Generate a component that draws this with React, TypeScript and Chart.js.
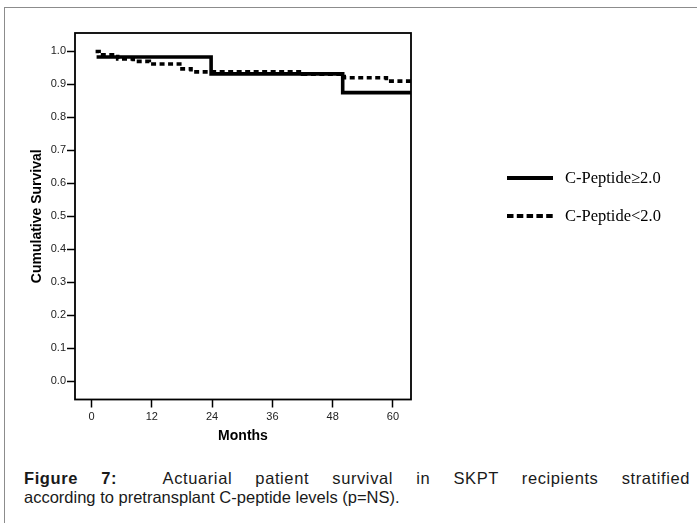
import React, { useEffect, useRef } from "react";
import { Chart, registerables } from "chart.js";

Chart.register(...registerables);

// Series: C-Peptide >= 2.0 (solid)
const highMonths = [1, 23.8, 50, 63.6];
const highSurvival = [0.983, 0.932, 0.875, 0.875];

// Series: C-Peptide < 2.0 (dashed)
const lowMonths = [0.8, 1.5, 5.2, 8.3, 11.5, 18, 19.8, 42, 50.3, 58.7, 63.6];
const lowSurvival = [1.0, 0.99, 0.977, 0.97, 0.962, 0.947, 0.938, 0.931, 0.92, 0.91, 0.91];

const seriesLabels = ["C-Peptide\u22652.0", "C-Peptide<2.0"];
const xTicks = [0, 12, 24, 36, 48, 60];
const yTicks = [0, 0.1, 0.2, 0.3, 0.4, 0.5, 0.6, 0.7, 0.8, 0.9, 1.0];
const xTitle = "Months";
const yTitle = "Cumulative Survival";
const captionBold = "Figure 7:";
const captionLine1 = "Actuarial patient survival in SKPT recipients stratified";
const captionLine2 = "according to pretransplant C-peptide levels (p=NS).";

const SANS = 'Arial, "Liberation Sans", Helvetica, sans-serif';
const SERIF = '"Times New Roman", "Liberation Serif", serif';

const boxPlugin = {
  id: "plotBox",
  afterDatasetsDraw(chart: any) {
    const { ctx, chartArea: a } = chart;
    ctx.save();
    ctx.strokeStyle = "#000";
    ctx.lineWidth = 1.8;
    ctx.strokeRect(a.left, a.top, a.right - a.left, a.bottom - a.top);
    ctx.restore();
  },
};

function toPoints(xs: number[], ys: number[]) {
  return xs.map((x, i) => ({ x, y: ys[i] }));
}

export default function App() {
  const ref = useRef<HTMLCanvasElement | null>(null);

  useEffect(() => {
    if (!ref.current) return;
    const chart = new Chart(ref.current, {
      type: "line",
      data: {
        datasets: [
          {
            label: seriesLabels[1],
            data: toPoints(lowMonths, lowSurvival),
            borderColor: "#000",
            borderWidth: 3.6,
            borderDash: [5, 3.5],
            borderCapStyle: "butt",
            stepped: "before",
            pointRadius: 0,
            fill: false,
          },
          {
            label: seriesLabels[0],
            data: toPoints(highMonths, highSurvival),
            borderColor: "#000",
            borderWidth: 3.6,
            stepped: "before",
            pointRadius: 0,
            fill: false,
          },
        ],
      },
      options: {
        animation: false,
        responsive: false,
        maintainAspectRatio: false,
        layout: { padding: { left: 0, top: 33, right: 286, bottom: 0 } },
        plugins: { legend: { display: false }, tooltip: { enabled: false } },
        scales: {
          x: {
            type: "linear",
            min: -3.3,
            max: 63.6,
            afterBuildTicks: (axis: any) => {
              axis.ticks = xTicks.map((v) => ({ value: v }));
            },
            afterFit: (scale: any) => {
              scale.height = 60.5;
            },
            border: { display: false },
            grid: {
              display: true,
              drawOnChartArea: false,
              drawTicks: true,
              tickLength: 8,
              tickColor: "#000",
              tickWidth: 1.5,
            },
            ticks: {
              color: "#222",
              font: { family: SANS, size: 11 },
              padding: 3,
              maxRotation: 0,
              autoSkip: false,
              callback: (v: any) => String(v),
            },
            title: {
              display: true,
              text: xTitle,
              color: "#000",
              font: { family: SANS, size: 14, weight: "bold" },
              padding: { top: 0, bottom: 15.6 },
            },
          },
          y: {
            type: "linear",
            min: -0.056,
            max: 1.056,
            afterBuildTicks: (axis: any) => {
              axis.ticks = yTicks.map((v) => ({ value: v }));
            },
            afterFit: (scale: any) => {
              scale.width = 75;
            },
            border: { display: false },
            grid: {
              display: true,
              drawOnChartArea: false,
              drawTicks: true,
              tickLength: 8,
              tickColor: "#000",
              tickWidth: 1.5,
            },
            ticks: {
              color: "#222",
              font: { family: SANS, size: 11 },
              padding: 1,
              autoSkip: false,
              callback: (v: any) => Number(v).toFixed(1),
            },
            title: {
              display: true,
              text: yTitle,
              color: "#000",
              font: { family: SANS, size: 14, weight: "bold" },
              padding: { top: 28.5, bottom: 0 },
            },
          },
        },
      },
      plugins: [boxPlugin],
    } as any);
    return () => chart.destroy();
  }, []);

  const legendRow = (top: number, dashed: boolean, label: string) => (
    <div
      style={{
        position: "absolute",
        left: 507,
        top: top - 10,
        height: 20,
        display: "flex",
        alignItems: "center",
        whiteSpace: "nowrap",
      }}
    >
      <svg width={46} height={20} style={{ display: "block" }}>
        <line
          x1={0}
          y1={10}
          x2={46}
          y2={10}
          stroke="#000"
          strokeWidth={4}
          strokeDasharray={dashed ? "6.5 3.3" : undefined}
        />
      </svg>
      <span
        style={{
          marginLeft: 12,
          fontFamily: SERIF,
          fontSize: 16.5,
          color: "#000",
          lineHeight: "20px",
        }}
      >
        {label}
      </span>
    </div>
  );

  return (
    <div
      style={{
        position: "fixed",
        left: 0,
        top: 0,
        width: 697,
        height: 523,
        overflow: "hidden",
        background: "#fff",
      }}
    >
      <div
        style={{
          position: "absolute",
          left: 4,
          top: 7,
          width: 800,
          height: 600,
          border: "1.5px solid #8c8c8c",
        }}
      />
      <canvas
        ref={ref}
        width={697}
        height={460}
        style={{ position: "absolute", left: 0, top: 0, width: 697, height: 460 }}
      />
      {legendRow(178, false, seriesLabels[0])}
      {legendRow(216, true, seriesLabels[1])}
      <div
        style={{
          position: "absolute",
          left: 24,
          top: 468.5,
          width: 666,
          fontFamily: SANS,
          fontSize: 16.5,
          lineHeight: "19px",
          color: "#1a1a1a",
        }}
      >
        <div
          style={{
            textAlign: "justify",
            textAlignLast: "justify",
            letterSpacing: "0.6px",
            whiteSpace: "nowrap",
          } as any}
        >
          <b>{captionBold}</b>&nbsp; {captionLine1}
        </div>
        <div>{captionLine2}</div>
      </div>
    </div>
  );
}
